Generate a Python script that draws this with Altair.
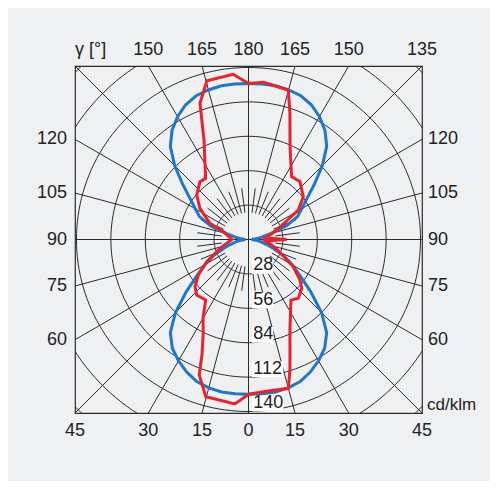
import altair as alt
import pandas as pd

# ---- data (cd/klm) ----
H = 141.2          # half range of the square frame, cd/klm
W = 347            # plot size in px

blue_gamma = list(range(0, 181, 5))
blue_cd = [126, 126, 126, 125, 123, 119, 114, 108, 99, 84, 66, 51, 41, 32, 22, 15, 10, 6, 2.5,
           6, 11, 19, 33, 44, 50, 58, 70, 85, 99, 108.5, 115.5, 121, 124.5, 126, 127, 127, 127]

red_left_gamma = [0, 4.7, 15.2, 20, 22, 26, 30, 35.3, 43, 48.6, 54.7, 62, 72.8, 90,
                  107.2, 112.8, 122.7, 130.7, 140, 145, 150, 155.9, 160.4, 165.3, 174.7, 180]
red_left_cd = [126, 134.3, 132.6, 117.3, 101, 84, 74, 60.3, 61.8, 58, 50, 38.5, 24.3, 13.5,
               21.5, 34, 47, 55.6, 61.4, 60.8, 70.8, 88.7, 117.7, 133.6, 135, 127]

red_right_gamma = [0, 5.6, 15, 17.6, 20, 24.6, 30, 35, 40.3, 47.5, 51.8, 58.7, 66.3, 72.7, 85, 90,
                   95, 108.6, 120.6, 128, 138.3, 145.5, 150, 155.9, 161.8, 165.1, 174.6, 180]
red_right_cd = [126, 124.5, 125.4, 111.5, 98.8, 81, 68.4, 60.2, 62.7, 58.8, 53.3, 42.7, 29, 23, 14, 31,
                14, 24.2, 47.1, 56.6, 63, 62, 69.2, 82.8, 108, 125.9, 128.5, 127]

ring_values = [28, 56, 84, 112, 140, 168, 196]
ring_labels = [28, 56, 84, 112, 140]
bottom_gamma = [0, 15, 30, 45]
top_gamma = [180, 165, 150, 135]
side_gamma = [60, 75, 90, 105, 120]

FONT = "Liberation Sans"
TXT = "#222222"
GRID = "#2b2b2b"
BLUE = "#1f77c8"
RED = "#e8232b"
BG = "#eef0f2"

# ---- tables ----
def curve(name, lg, lv, rg, rv):
    rows = []
    o = 0
    for g, v in zip(lg, lv):
        rows.append({"c": name, "side": -1, "g": g, "v": v, "o": o}); o += 1
    for g, v in zip(reversed(rg), reversed(rv)):
        rows.append({"c": name, "side": 1, "g": g, "v": v, "o": o}); o += 1
    return rows

curves = pd.DataFrame(curve("blue", blue_gamma, blue_cd, blue_gamma, blue_cd) +
                      curve("red", red_left_gamma, red_left_cd, red_right_gamma, red_right_cd))

rings = pd.DataFrame([{"r": r, "a": a} for r in ring_values for a in range(0, 362, 2)])

rad_rows = []
for k in range(48):
    a = k * 7.5
    if k % 12 == 0:
        r0, r1 = 0, 320
    elif k % 2 == 0:
        r0, r1 = 22, 320
    else:
        r0, r1 = 22, 42
    rad_rows += [{"id": k, "a": a, "r": r0}, {"id": k, "a": a, "r": r1}]
radials = pd.DataFrame(rad_rows)

ringlab = pd.DataFrame({"v": ring_labels, "t": [str(v) for v in ring_labels]})

bottom = pd.DataFrame([{"g": g, "s": s, "t": str(g)} for g in bottom_gamma for s in ([1] if g == 0 else [-1, 1])])
top = pd.DataFrame([{"g": g, "s": s, "t": str(g)} for g in top_gamma
                    for s in ([1] if g == 180 else ([1] if g == 135 else [-1, 1]))])
sides = pd.DataFrame([{"g": g, "t": str(g)} for g in side_gamma])

xs = alt.Scale(domain=[-H, H], nice=False, zero=False)
ys = alt.Scale(domain=[-H, H], nice=False, zero=False)
X = lambda f="x": alt.X(f + ":Q", scale=xs, axis=None)
Y = lambda f="y": alt.Y(f + ":Q", scale=ys, axis=None)

grid = alt.Chart(rings).transform_calculate(
    x="datum.r*sin(datum.a*PI/180)", y="-datum.r*cos(datum.a*PI/180)"
).mark_line(clip=True, stroke=GRID, strokeWidth=1).encode(x=X(), y=Y(), detail="r:N", order="a:Q")

rad = alt.Chart(radials).transform_calculate(
    x="datum.r*sin(datum.a*PI/180)", y="-datum.r*cos(datum.a*PI/180)"
).mark_line(clip=True, stroke=GRID, strokeWidth=1).encode(x=X(), y=Y(), detail="id:N", order="r:Q")

def curve_layer(name, color):
    return alt.Chart(curves).transform_filter(alt.datum.c == name).transform_calculate(
        x="datum.side*datum.v*sin(datum.g*PI/180)", y="-datum.v*cos(datum.g*PI/180)"
    ).mark_line(stroke=color, strokeWidth=3, strokeJoin="miter").encode(x=X(), y=Y(), order="o:Q")

blue = curve_layer("blue", BLUE)
red = curve_layer("red", RED)

px = W / (2 * H)
boxes = alt.Chart(ringlab).transform_calculate(
    x1=f"3.2/{px}", x2=f"(3.2 + 10*length(datum.t) + 1.6)/{px}",
    y1="-(datum.v - 12.8)", y2="-datum.v"
).mark_rect(fill="white").encode(x=X("x1"), x2="x2:Q", y=Y("y1"), y2="y2:Q")

ringtext = alt.Chart(ringlab).transform_calculate(
    x=f"4.8/{px}", y="-(datum.v - 7)"
).mark_text(align="left", baseline="middle", font=FONT, fontSize=18, color=TXT).encode(
    x=X(), y=Y(), text="t:N")

btxt = alt.Chart(bottom).transform_calculate(
    x=f"datum.s*{H}*tan(datum.g*PI/180)"
).mark_text(align="center", baseline="middle", font=FONT, fontSize=18, color=TXT).encode(
    x=X(), y=alt.value(365), text="t:N")

ttxt = alt.Chart(top).transform_calculate(
    x=f"datum.s*{H}*tan((180-datum.g)*PI/180)"
).mark_text(align="center", baseline="middle", font=FONT, fontSize=18, color=TXT).encode(
    x=X(), y=alt.value(-16), text="t:N")

ltxt = alt.Chart(sides).transform_calculate(
    y=f"-{H}*cos(datum.g*PI/180)/sin(datum.g*PI/180)"
).mark_text(align="right", baseline="middle", font=FONT, fontSize=18, color=TXT).encode(
    x=alt.value(-8), y=Y(), text="t:N")

rtxt = alt.Chart(sides).transform_calculate(
    y=f"-{H}*cos(datum.g*PI/180)/sin(datum.g*PI/180)"
).mark_text(align="left", baseline="middle", font=FONT, fontSize=18, color=TXT).encode(
    x=alt.value(353), y=Y(), text="t:N")

gam = alt.Chart(pd.DataFrame({"t": ["γ [°]"]})).mark_text(
    align="left", baseline="middle", font=FONT, fontSize=18, color=TXT
).encode(x=alt.value(0), y=alt.value(-16), text="t:N")

unit = alt.Chart(pd.DataFrame({"t": ["cd/klm"]})).mark_text(
    align="left", baseline="middle", font=FONT, fontSize=17, color=TXT
).encode(x=alt.value(352), y=alt.value(339), text="t:N")

chart = alt.layer(grid, rad, boxes, blue, red, ringtext, btxt, ttxt, ltxt, rtxt, gam, unit).properties(
    width=W, height=W,
    padding={"left": 67, "top": 58, "right": 68, "bottom": 68},
    autosize=alt.AutoSizeParams(type="none"),
    background=BG,
).configure_view(stroke=GRID, strokeWidth=1.2)

chart.save("out.html", embed_options={"renderer": "svg", "actions": False})
